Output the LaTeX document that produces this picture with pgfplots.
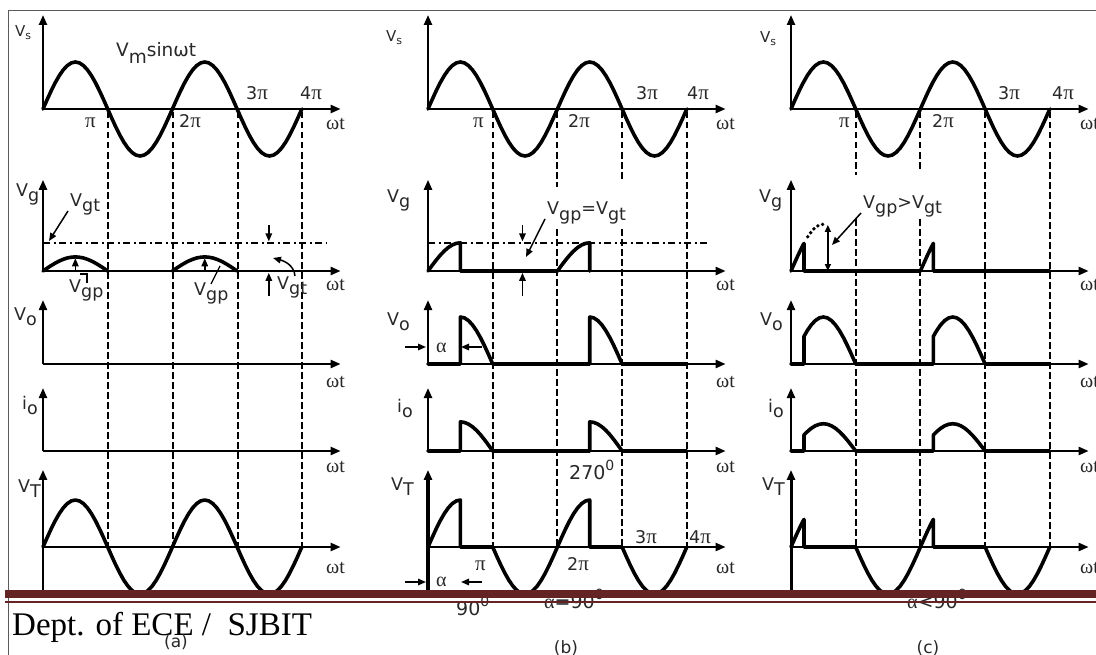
\documentclass[border=0pt]{standalone}
\usepackage{fontspec}
\setmainfont{DejaVu Sans}
\newfontfamily\sym{Liberation Serif}
\newfontfamily\foot{Liberation Serif}
\usepackage{pgfplots}
\pgfplotsset{compat=1.18}
\usepackage{pgfplotstable}
\usetikzlibrary{arrows.meta}
\definecolor{barbrown}{RGB}{99,36,35}
\definecolor{frame}{RGB}{90,90,90}
\definecolor{txt}{RGB}{40,40,40}

% one source voltage, x in units of pi, y in units of Vm
\pgfplotstableread{
x y
0 0
0.0625 0.1951
0.125 0.3827
0.1875 0.5556
0.25 0.7071
0.3125 0.8315
0.375 0.9239
0.4375 0.9808
0.5 1
0.5625 0.9808
0.625 0.9239
0.6875 0.8315
0.75 0.7071
0.8125 0.5556
0.875 0.3827
0.9375 0.1951
1 0
1.0625 -0.1951
1.125 -0.3827
1.1875 -0.5556
1.25 -0.7071
1.3125 -0.8315
1.375 -0.9239
1.4375 -0.9808
1.5 -1
1.5625 -0.9808
1.625 -0.9239
1.6875 -0.8315
1.75 -0.7071
1.8125 -0.5556
1.875 -0.3827
1.9375 -0.1951
2 0
2.0625 0.1951
2.125 0.3827
2.1875 0.5556
2.25 0.7071
2.3125 0.8315
2.375 0.9239
2.4375 0.9808
2.5 1
2.5625 0.9808
2.625 0.9239
2.6875 0.8315
2.75 0.7071
2.8125 0.5556
2.875 0.3827
2.9375 0.1951
3 0
3.0625 -0.1951
3.125 -0.3827
3.1875 -0.5556
3.25 -0.7071
3.3125 -0.8315
3.375 -0.9239
3.4375 -0.9808
3.5 -1
3.5625 -0.9808
3.625 -0.9239
3.6875 -0.8315
3.75 -0.7071
3.8125 -0.5556
3.875 -0.3827
3.9375 -0.1951
4 0
}\sinetab

\newcommand\lab{\fontsize{17.5bp}{19bp}\selectfont}
\newcommand\num{\fontsize{19bp}{21bp}\selectfont}
\newcommand\sub[1]{\raisebox{-5bp}{#1}}
\newcommand\sups[1]{\raisebox{9bp}{\fontsize{14bp}{15bp}\selectfont #1}}
\newcommand\pii{{\sym\fontsize{21bp}{22bp}\selectfont π}}
\newcommand\wt{{\sym\fontsize{20bp}{22bp}\selectfont ωt}}
\newcommand\al{{\sym\fontsize{20bp}{22bp}\selectfont α}}

\pgfplotsset{
  wv/.style={hide axis, clip=false, x=64.7bp, y=47bp, xmin=0, xmax=4.6,
             ymin=-1.1, ymax=2.1, anchor=origin},
}
\tikzset{
  wf/.style={line width=3.6bp, line join=round, line cap=round, black},
  axl/.style={line width=2.3bp, black, -{Triangle[length=10bp,width=8bp]}},
  ann/.style={line width=1.5bp, black, -{Triangle[length=8bp,width=6.5bp]}},
  vd/.style={line width=2bp, black, dash pattern=on 6.5bp off 3.5bp},
  dd/.style={line width=1.8bp, black, dash pattern=on 7bp off 3.5bp on 2bp off 3.5bp},
  tx/.style={anchor=base west, inner sep=0pt, font=\lab, text=txt},
}

\begin{document}
\begin{tikzpicture}[x=1bp,y=-1bp]

% ================= column (a) =================
\begin{axis}[wv, at={(43bp,-109bp)}]
  \draw[axl] (axis cs:0,0) -- (axis cs:4.6,0);
  \draw[axl] (axis cs:0,0) -- (axis cs:0,2.0);
  \addplot[wf] table {\sinetab};
\end{axis}
\begin{axis}[wv, at={(43bp,-271bp)}]
  \draw[axl] (axis cs:0,0) -- (axis cs:4.6,0);
  \draw[axl] (axis cs:0,0) -- (axis cs:0,1.94);
  \addplot[dd] coordinates {(0,0.6) (4.37,0.6)};
  \addplot[wf, smooth] coordinates {(0,0)(0.125,0.1148)(0.25,0.2121)(0.375,0.2772)(0.5,0.3)(0.625,0.2772)(0.75,0.2121)(0.875,0.1148)(1,0)};
  \addplot[wf, smooth] coordinates {(2,0)(2.125,0.1148)(2.25,0.2121)(2.375,0.2772)(2.5,0.3)(2.625,0.2772)(2.75,0.2121)(2.875,0.1148)(3,0)};
  \draw[ann] (axis cs:0.5,0) -- (axis cs:0.5,0.27);
  \draw[ann] (axis cs:2.5,0) -- (axis cs:2.5,0.27);
  \draw[ann] (axis cs:3.49,0.98) -- (axis cs:3.49,0.63);
  \draw[ann] (axis cs:3.49,-0.53) -- (axis cs:3.49,-0.04);
\end{axis}
\begin{axis}[wv, at={(43bp,-364bp)}]
  \draw[axl] (axis cs:0,0) -- (axis cs:4.6,0);
  \draw[axl] (axis cs:0,0) -- (axis cs:0,1.36);
\end{axis}
\begin{axis}[wv, at={(43bp,-451bp)}]
  \draw[axl] (axis cs:0,0) -- (axis cs:4.6,0);
  \draw[axl] (axis cs:0,0) -- (axis cs:0,1.34);
\end{axis}
\begin{axis}[wv, at={(43bp,-547bp)}]
  \draw[axl] (axis cs:0,0) -- (axis cs:4.6,0);
  \draw[axl] (axis cs:0,-0.98) -- (axis cs:0,1.64);
  \addplot[wf] table {\sinetab};
\end{axis}

% ================= column (b) =================
\begin{axis}[wv, at={(428bp,-109bp)}]
  \draw[axl] (axis cs:0,0) -- (axis cs:4.6,0);
  \draw[axl] (axis cs:0,0) -- (axis cs:0,2.0);
  \addplot[wf] table {\sinetab};
\end{axis}
\begin{axis}[wv, at={(428bp,-271bp)}]
  \draw[axl] (axis cs:0,0) -- (axis cs:4.6,0);
  \draw[axl] (axis cs:0,0) -- (axis cs:0,1.94);
  \addplot[dd] coordinates {(0,0.6) (4.34,0.6)};
  \addplot[wf] coordinates {(0,0)(0.0625,0.1171)(0.125,0.2296)(0.1875,0.3334)(0.25,0.4243)(0.3125,0.4989)(0.375,0.5543)(0.4375,0.5885)(0.5,0.6)(0.5,0)(2,0)(2.0625,0.1171)(2.125,0.2296)(2.1875,0.3334)(2.25,0.4243)(2.3125,0.4989)(2.375,0.5543)(2.4375,0.5885)(2.5,0.6)(2.5,0)};
  \addplot[line width=2.6bp] coordinates {(2.5,0)(4,0)};
  \draw[ann] (axis cs:1.46,0.98) -- (axis cs:1.46,0.63);
  \draw[ann] (axis cs:1.46,-0.53) -- (axis cs:1.46,-0.04);
\end{axis}
\begin{axis}[wv, at={(428bp,-364bp)}]
  \draw[axl] (axis cs:0,0) -- (axis cs:4.6,0);
  \draw[axl] (axis cs:0,0) -- (axis cs:0,1.36);
  \addplot[wf] coordinates {(0,0)(0.5,0)(0.5,1)(0.5625,0.9808)(0.625,0.9239)(0.6875,0.8315)(0.75,0.7071)(0.8125,0.5556)(0.875,0.3827)(0.9375,0.1951)(1,0)(2.5,0)(2.5,1)(2.5625,0.9808)(2.625,0.9239)(2.6875,0.8315)(2.75,0.7071)(2.8125,0.5556)(2.875,0.3827)(2.9375,0.1951)(3,0)(4,0)};
\end{axis}
\begin{axis}[wv, at={(428bp,-451bp)}]
  \draw[axl] (axis cs:0,0) -- (axis cs:4.6,0);
  \draw[axl] (axis cs:0,0) -- (axis cs:0,1.34);
  \addplot[wf] coordinates {(0,0)(0.5,0)(0.5,0.62)(0.5625,0.6081)(0.625,0.5728)(0.6875,0.5155)(0.75,0.4384)(0.8125,0.3445)(0.875,0.2373)(0.9375,0.1210)(1,0)(2.5,0)(2.5,0.62)(2.5625,0.6081)(2.625,0.5728)(2.6875,0.5155)(2.75,0.4384)(2.8125,0.3445)(2.875,0.2373)(2.9375,0.1210)(3,0)(4,0)};
\end{axis}
\begin{axis}[wv, at={(428bp,-547bp)}]
  \draw[axl] (axis cs:0,0) -- (axis cs:4.6,0);
  \draw[axl, line width=4bp] (axis cs:0,-0.98) -- (axis cs:0,1.64);
  \addplot[wf] coordinates {(0,0)(0.0625,0.1951)(0.125,0.3827)(0.1875,0.5556)(0.25,0.7071)(0.3125,0.8315)(0.375,0.9239)(0.4375,0.9808)(0.5,1)(0.5,0)(1,0)(1.0625,-0.1951)(1.125,-0.3827)(1.1875,-0.5556)(1.25,-0.7071)(1.3125,-0.8315)(1.375,-0.9239)(1.4375,-0.9808)(1.5,-1)(1.5625,-0.9808)(1.625,-0.9239)(1.6875,-0.8315)(1.75,-0.7071)(1.8125,-0.5556)(1.875,-0.3827)(1.9375,-0.1951)(2,0)(2.0625,0.1951)(2.125,0.3827)(2.1875,0.5556)(2.25,0.7071)(2.3125,0.8315)(2.375,0.9239)(2.4375,0.9808)(2.5,1)(2.5,0)(3,0)(3.0625,-0.1951)(3.125,-0.3827)(3.1875,-0.5556)(3.25,-0.7071)(3.3125,-0.8315)(3.375,-0.9239)(3.4375,-0.9808)(3.5,-1)(3.5625,-0.9808)(3.625,-0.9239)(3.6875,-0.8315)(3.75,-0.7071)(3.8125,-0.5556)(3.875,-0.3827)(3.9375,-0.1951)(4,0)};
\end{axis}

% ================= column (c) =================
\begin{axis}[wv, at={(791bp,-109bp)}]
  \draw[axl] (axis cs:0,0) -- (axis cs:4.6,0);
  \draw[axl] (axis cs:0,0) -- (axis cs:0,2.0);
  \addplot[wf] table {\sinetab};
\end{axis}
\begin{axis}[wv, at={(791bp,-271bp)}]
  \draw[axl] (axis cs:0,0) -- (axis cs:4.6,0);
  \draw[axl] (axis cs:0,0) -- (axis cs:0,1.94);
  \addplot[wf] coordinates {(0,0)(0.05,0.1564)(0.1,0.3090)(0.15,0.4540)(0.2,0.5878)(0.2,0)(2,0)(2.05,0.1564)(2.1,0.3090)(2.15,0.4540)(2.2,0.5878)(2.2,0)(4,0)};
  \addplot[line width=3.8bp, line cap=round, dash pattern=on 0bp off 5bp] coordinates {(0.26,0.7290)(0.3,0.8090)(0.35,0.8910)(0.4,0.9511)(0.45,0.9877)(0.53,0.9956)};
  \draw[line width=1.5bp, {Triangle[length=7bp,width=6bp]}-{Triangle[length=7bp,width=6bp]}] (axis cs:0.57,0) -- (axis cs:0.57,0.98);
\end{axis}
\begin{axis}[wv, at={(791bp,-364bp)}]
  \draw[axl] (axis cs:0,0) -- (axis cs:4.6,0);
  \draw[axl] (axis cs:0,0) -- (axis cs:0,1.36);
  \addplot[wf] coordinates {(0,0)(0.2,0)(0.2,0.5878)(0.25,0.7071)(0.3125,0.8315)(0.375,0.9239)(0.4375,0.9808)(0.5,1)(0.5625,0.9808)(0.625,0.9239)(0.6875,0.8315)(0.75,0.7071)(0.8125,0.5556)(0.875,0.3827)(0.9375,0.1951)(1,0)(2.2,0)(2.2,0.5878)(2.25,0.7071)(2.3125,0.8315)(2.375,0.9239)(2.4375,0.9808)(2.5,1)(2.5625,0.9808)(2.625,0.9239)(2.6875,0.8315)(2.75,0.7071)(2.8125,0.5556)(2.875,0.3827)(2.9375,0.1951)(3,0)(4,0)};
\end{axis}
\begin{axis}[wv, at={(791bp,-451bp)}]
  \draw[axl] (axis cs:0,0) -- (axis cs:4.6,0);
  \draw[axl] (axis cs:0,0) -- (axis cs:0,1.34);
  \addplot[wf] coordinates {(0,0)(0.2,0)(0.2,0.3409)(0.25,0.4101)(0.3125,0.4823)(0.375,0.5359)(0.4375,0.5689)(0.5,0.58)(0.5625,0.5689)(0.625,0.5359)(0.6875,0.4823)(0.75,0.4101)(0.8125,0.3222)(0.875,0.2220)(0.9375,0.1132)(1,0)(2.2,0)(2.2,0.3409)(2.25,0.4101)(2.3125,0.4823)(2.375,0.5359)(2.4375,0.5689)(2.5,0.58)(2.5625,0.5689)(2.625,0.5359)(2.6875,0.4823)(2.75,0.4101)(2.8125,0.3222)(2.875,0.2220)(2.9375,0.1132)(3,0)(4,0)};
\end{axis}
\begin{axis}[wv, at={(791bp,-547bp)}]
  \draw[axl] (axis cs:0,0) -- (axis cs:4.6,0);
  \draw[axl, line width=3bp] (axis cs:0,-0.98) -- (axis cs:0,1.64);
  \addplot[wf] coordinates {(0,0)(0.05,0.1564)(0.1,0.3090)(0.15,0.4540)(0.2,0.5878)(0.2,0)(1,0)(1.0625,-0.1951)(1.125,-0.3827)(1.1875,-0.5556)(1.25,-0.7071)(1.3125,-0.8315)(1.375,-0.9239)(1.4375,-0.9808)(1.5,-1)(1.5625,-0.9808)(1.625,-0.9239)(1.6875,-0.8315)(1.75,-0.7071)(1.8125,-0.5556)(1.875,-0.3827)(1.9375,-0.1951)(2,0)(2.05,0.1564)(2.1,0.3090)(2.15,0.4540)(2.2,0.5878)(2.2,0)(3,0)(3.0625,-0.1951)(3.125,-0.3827)(3.1875,-0.5556)(3.25,-0.7071)(3.3125,-0.8315)(3.375,-0.9239)(3.4375,-0.9808)(3.5,-1)(3.5625,-0.9808)(3.625,-0.9239)(3.6875,-0.8315)(3.75,-0.7071)(3.8125,-0.5556)(3.875,-0.3827)(3.9375,-0.1951)(4,0)};
\end{axis}

% ================= dashed verticals =================
\foreach \xx in {108,173,238,302} {\draw[vd] (\xx,112) -- (\xx,546);}
\draw[vd] (493,112) -- (493,546);
\draw[vd] (557,112) -- (557,187); \draw[vd] (557,229) -- (557,546);
\draw[vd] (622,112) -- (622,182); \draw[vd] (622,229) -- (622,546);
\draw[vd] (687,112) -- (687,546);
\draw[vd] (856,112) -- (856,175); \draw[vd] (856,219) -- (856,546);
\draw[vd] (920,112) -- (920,171); \draw[vd] (920,219) -- (920,546);
\draw[vd] (985,112) -- (985,546);
\draw[vd] (1050,112) -- (1050,546);

% ================= labels column (a) =================
\node[tx] at (15,37) {\fontsize{15bp}{16bp}\selectfont V\raisebox{-3bp}{\fontsize{11bp}{12bp}\selectfont s}};
\node[tx, font=\fontsize{18.5bp}{20bp}\selectfont] at (116,57) {V\raisebox{-7bp}{m}sinωt};
\node[tx] at (85,128) {\pii};
\node[tx] at (179,128) {2\pii};
\node[tx] at (246,100) {3\pii};
\node[tx] at (300,100) {4\pii};
\foreach \yy in {130,290,387,472,573} {\node[tx] at (326,\yy) {\wt};}
\node[tx] at (16,197) {V\sub{g}};
\node[tx] at (14,320) {V\sub{o}};
\node[tx] at (22,409) {i\sub{o}};
\node[tx] at (18,492) {V\sub{T}};
\node[tx] at (70,207) {V\sub{gt}};
\draw[ann] (68,211) -- (49,241);
\node[tx] at (69,292) {V\sub{gp}};
\draw[line width=1.3bp] (80,274) -- (87,274) -- (87,283);
\node[tx] at (194,295) {V\sub{gp}};
\draw[line width=1.3bp] (211,284) -- (220,266);
\node[tx] at (277,289) {V\sub{gt}};
\draw[ann] (295,276) to[out=95,in=-15] (273,258);

% ================= labels column (b) =================
\node[tx] at (386,42) {\fontsize{15bp}{16bp}\selectfont V\raisebox{-3bp}{\fontsize{11bp}{12bp}\selectfont s}};
\node[tx] at (473,128) {\pii};
\node[tx] at (568,128) {2\pii};
\node[tx] at (636,100) {3\pii};
\node[tx] at (687,100) {4\pii};
\foreach \yy in {130,290,387,472,573} {\node[tx] at (716,\yy) {\wt};}
\node[tx] at (387,203) {V\sub{g}};
\node[tx] at (387,325) {V\sub{o}};
\node[tx] at (397,412) {i\sub{o}};
\node[tx] at (391,490) {V\sub{T}};
\node[tx] at (547,215) {V\sub{gp}=V\sub{gt}};
\draw[ann] (545,219) -- (526,257);
\node[tx] at (436,352) {\al};
\draw[ann] (405,347) -- (426,347);
\draw[ann] (482,347) -- (461,347);
\node[tx, font=\num] at (569,479) {270\sups{0}};
\node[tx] at (475,570) {\pii};
\node[tx] at (567,570) {2\pii};
\node[tx] at (635,543) {3\pii};
\node[tx] at (689,543) {4\pii};
\node[tx] at (436,586) {\al};
\draw[ann] (405,582) -- (426,582);
\draw[ann] (482,582) -- (461,582);
\node[tx, font=\num] at (456,615) {90\sups{0}};
\node[tx, font=\num] at (544,608) {\al=90\sups{0}};

% ================= labels column (c) =================
\node[tx] at (760,43) {\fontsize{15bp}{16bp}\selectfont V\raisebox{-3bp}{\fontsize{11bp}{12bp}\selectfont s}};
\node[tx] at (839,128) {\pii};
\node[tx] at (932,128) {2\pii};
\node[tx] at (998,100) {3\pii};
\node[tx] at (1052,100) {4\pii};
\foreach \yy in {130,290,387,472,573} {\node[tx] at (1080,\yy) {\wt};}
\node[tx] at (759,203) {V\sub{g}};
\node[tx] at (760,325) {V\sub{o}};
\node[tx] at (768,412) {i\sub{o}};
\node[tx] at (762,490) {V\sub{T}};
\node[tx] at (863,209) {V\sub{gp}>V\sub{gt}};
\draw[ann] (861,213) -- (832,245);
\node[tx, font=\num] at (907,608) {\al<90\sups{0}};

% ================= frame, footer =================
\draw[frame, line width=1bp] (8,655) -- (8,11) -- (1100,11);
\fill[barbrown] (5,590) rectangle (1100,598);
\fill[barbrown] (5,601) rectangle (1100,602.5);
\node[anchor=base west, inner sep=0pt, font=\foot\fontsize{33bp}{35bp}\selectfont] at (12,635) {Dept. of ECE /\ \ SJBIT};
\node[anchor=base, inner sep=0pt, font=\fontsize{17bp}{19bp}\selectfont, text=txt] at (176,647) {(a)};
\node[anchor=base, inner sep=0pt, font=\fontsize{17bp}{19bp}\selectfont, text=txt] at (566,653) {(b)};
\node[anchor=base, inner sep=0pt, font=\fontsize{17bp}{19bp}\selectfont, text=txt] at (928,653) {(c)};

\pgfresetboundingbox
\path[use as bounding box] (0,0) rectangle (1096,655);
\end{tikzpicture}
\end{document}
